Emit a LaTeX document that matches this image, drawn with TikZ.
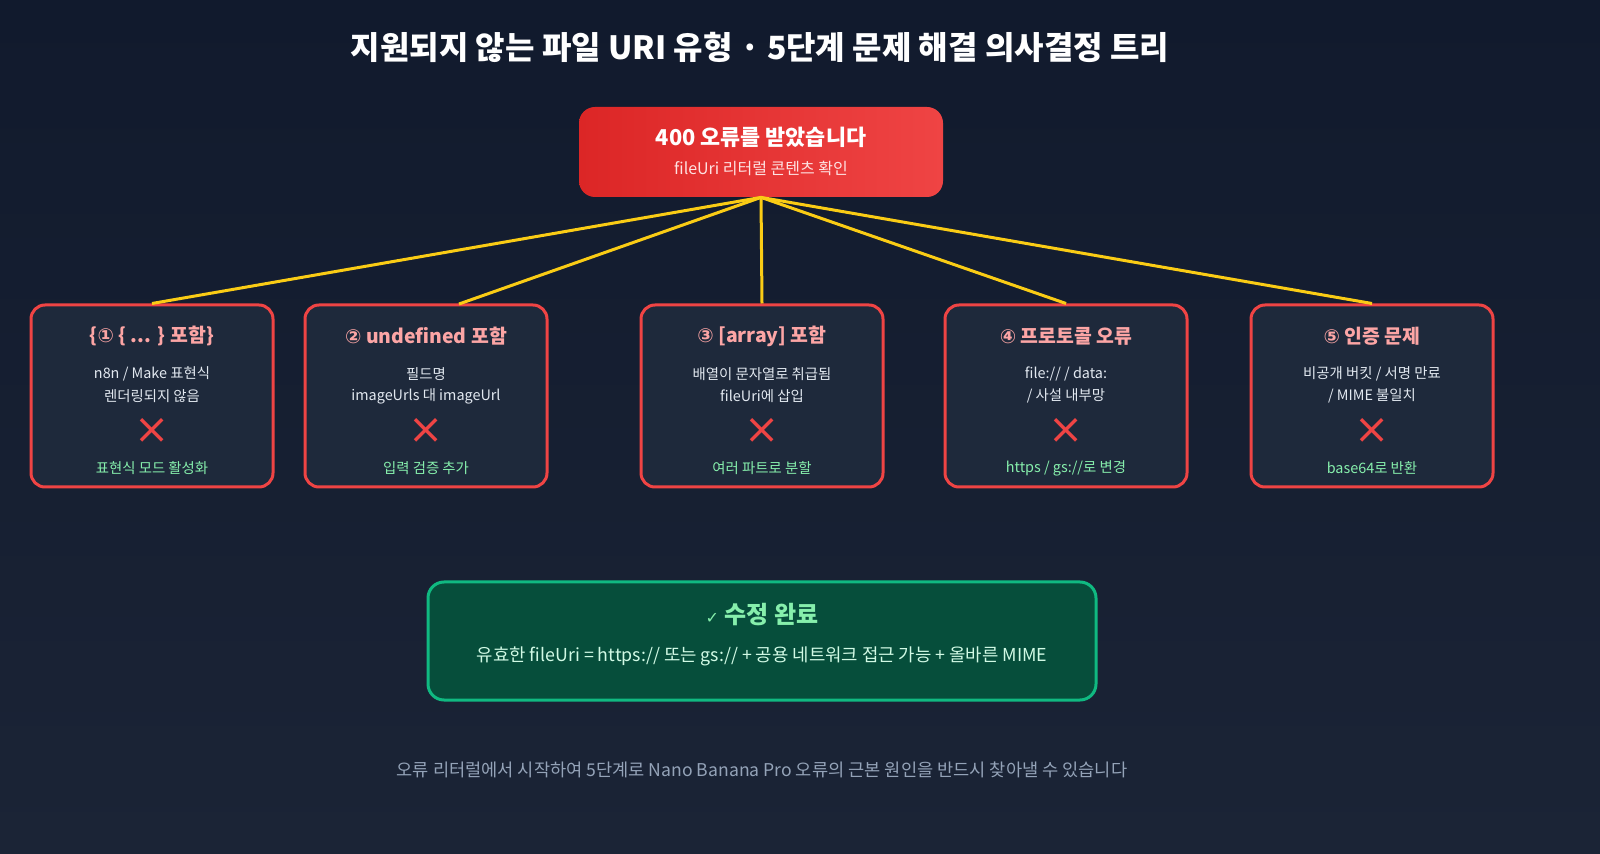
\documentclass[tikz,border=0pt]{standalone}
\usepackage{fontspec}
\setmainfont{Noto Sans CJK KR}
\newfontfamily\symfont{DejaVu Sans}
\usetikzlibrary{positioning}
\definecolor{bgtop}{HTML}{111A2D}
\definecolor{bgbot}{HTML}{1B2436}
\definecolor{rootleft}{HTML}{DC2626}
\definecolor{rootright}{HTML}{EF4444}
\definecolor{causered}{HTML}{EF4444}
\definecolor{causefill}{HTML}{1E293B}
\definecolor{causetitle}{HTML}{FCA5A5}
\definecolor{bodytext}{HTML}{E2E8F0}
\definecolor{fixgreen}{HTML}{86EFAC}
\definecolor{linkyellow}{HTML}{FACC15}
\definecolor{donefill}{HTML}{064E3B}
\definecolor{doneborder}{HTML}{10B981}
\definecolor{donetext}{HTML}{D1FAE5}
\definecolor{foottext}{HTML}{94A3B8}
\definecolor{rootsub}{HTML}{FEE2E2}
\tikzset{
  cause/.style={draw=causered, line width=1.5pt, fill=causefill, rounded corners=7pt,
    minimum width=121pt, minimum height=91pt, inner sep=0pt},
  causetitle/.style={text=causetitle, font=\fontsize{9.7}{11}\selectfont\bfseries},
  causebody/.style={text=bodytext, font=\fontsize{7.2}{8}\selectfont},
  crossmark/.style={text=causered, font=\symfont\fontsize{21}{21}\selectfont},
  causefix/.style={text=fixgreen, font=\fontsize{7.2}{8}\selectfont},
  link/.style={-, draw=linkyellow, line width=1.5pt}
}
\begin{document}
\begin{tikzpicture}[x=0.5pt, y=-0.5pt]
% background
\shade[top color=bgtop, bottom color=bgbot] (0,0) rectangle (1600,854);
\useasboundingbox (0,0) rectangle (1600,854);
\node[text=white, font=\fontsize{16}{18}\selectfont\bfseries] (title) at (760,47) {지원되지 않는 파일 URI 유형 · 5단계 문제 해결 의사결정 트리};
% root
\node[left color=rootleft, right color=rootright, rounded corners=8pt, minimum width=182pt, minimum height=45pt, inner sep=0pt] (root) at (761,152) {};
\node[text=white, font=\fontsize{10.9}{12}\selectfont\bfseries] (roottitle) at (761,137) {400 오류를 받았습니다};
\node[text=rootsub, font=\fontsize{8}{9}\selectfont] (rootsub) at (761,168) {fileUri 리터럴 콘텐츠 확인};
% causes
\node[cause] (c1) at (152,396) {};
\node[cause] (c2) at (426,396) {};
\node[cause] (c3) at (762,396) {};
\node[cause] (c4) at (1066,396) {};
\node[cause] (c5) at (1372,396) {};
\coordinate (e2) at (459,304);
\path [link] (root.south) edge (c1.north);
\path [link] (root.south) edge (e2);
\path [link] (root.south) edge (c3.north);
\path [link] (root.south) edge (c4.north);
\path [link] (root.south) edge (c5.north);
% cause 1
\node[causetitle] (t1) at (152,336) {\{\symfont ①\normalfont\bfseries{} \{ ... \} 포함\}};
\node[causebody] (a1) at (152,374) {n8n / Make 표현식};
\node[causebody] (b1) at (152,396) {렌더링되지 않음};
\node[crossmark] (x1) at (152,431) {×};
\node[causefix] (f1) at (152,468) {표현식 모드 활성화};
% cause 2
\node[causetitle] (t2) at (426,336) {{\symfont ②} undefined 포함};
\node[causebody] (a2) at (426,374) {필드명};
\node[causebody] (b2) at (426,396) {imageUrls 대 imageUrl};
\node[crossmark] (x2) at (426,431) {×};
\node[causefix] (f2) at (426,468) {입력 검증 추가};
% cause 3
\node[causetitle] (t3) at (762,336) {{\symfont ③} [array] 포함};
\node[causebody] (a3) at (762,374) {배열이 문자열로 취급됨};
\node[causebody] (b3) at (762,396) {fileUri에 삽입};
\node[crossmark] (x3) at (762,431) {×};
\node[causefix] (f3) at (762,468) {여러 파트로 분할};
% cause 4
\node[causetitle] (t4) at (1066,336) {{\symfont ④} 프로토콜 오류};
\node[causebody] (a4) at (1066,374) {file:// / data:};
\node[causebody] (b4) at (1066,396) {/ 사설 내부망};
\node[crossmark] (x4) at (1066,431) {×};
\node[causefix] (f4) at (1066,468) {https / gs://로 변경};
% cause 5
\node[causetitle] (t5) at (1372,336) {{\symfont ⑤} 인증 문제};
\node[causebody] (a5) at (1372,374) {비공개 버킷 / 서명 만료};
\node[causebody] (b5) at (1372,396) {/ MIME 불일치};
\node[crossmark] (x5) at (1372,431) {×};
\node[causefix] (f5) at (1372,468) {base64로 반환};
% fix
\node[draw=doneborder, line width=1.5pt, fill=donefill, rounded corners=8pt, minimum width=334pt, minimum height=59pt, inner sep=0pt] (done) at (762,641) {};
\node[text=fixgreen, font=\fontsize{12}{14}\selectfont\bfseries] (donetitle) at (762,615) {{\symfont\mdseries\fontsize{8}{9}\selectfont ✓} 수정 완료};
\node[text=donetext, font=\fontsize{8.9}{10}\selectfont] (donebody) at (762,656) {유효한 fileUri = https:// 또는 gs:// + 공용 네트워크 접근 가능 + 올바른 MIME};
% footer
\node[text=foottext, font=\fontsize{8.8}{10}\selectfont] (footer) at (762,770) {오류 리터럴에서 시작하여 5단계로 Nano Banana Pro 오류의 근본 원인을 반드시 찾아낼 수 있습니다};
\end{tikzpicture}
\end{document}
